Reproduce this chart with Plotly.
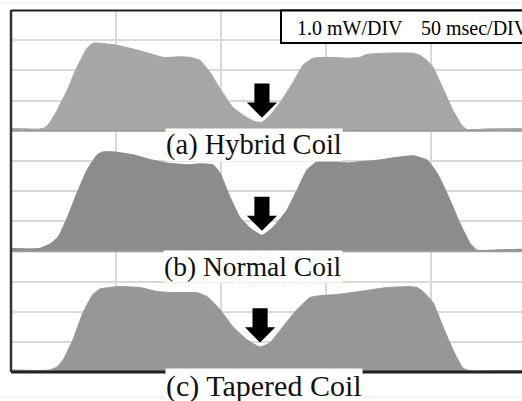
import plotly.graph_objects as go

# ---------------- data (time in msec, optical power in mW) ----------------
time_hybrid = [0, 6.7, 12.9, 16.2, 18.6, 21.9, 26.7, 31.4, 36.2, 39.0, 42.4, 50.5, 61.4, 72.4, 75.7, 80.0,
               85.2, 90.0, 94.8, 99.5, 105.7, 112.4, 116.2, 119.5, 123.3, 128.1, 134.3, 139.0, 143.8,
               150.5, 161.0, 166.2, 169.5, 179.0, 191.4, 194.8, 198.1, 201.0, 205.7, 210.5, 214.8,
               217.1, 228.1, 243.3]
power_hybrid = [0.08, 0.06, 0.05, 0.1, 0.28, 0.67, 1.33, 2.1, 2.73, 2.9, 2.9, 2.83, 2.65, 2.43, 2.43, 2.45,
                2.43, 2.33, 1.93, 1.4, 0.77, 0.43, 0.3, 0.28, 0.5, 0.93, 1.6, 2.17, 2.4,
                2.43, 2.4, 2.43, 2.53, 2.57, 2.57, 2.5, 2.33, 2.1, 1.4, 0.67, 0.17,
                0.04, 0.06, 0.07]

time_normal = [0, 9.0, 13.8, 18.6, 22.4, 26.7, 31.4, 36.2, 41.0, 43.8, 48.6, 58.1, 67.1, 74.3, 83.8, 90.0,
               96.2, 99.5, 104.3, 109.0, 114.3, 119.5, 124.8, 131.4, 136.2, 140.9, 145.7, 150.5, 160.0,
               166.2, 175.7, 181.9, 191.4, 198.1, 202.9, 207.6, 213.8, 218.6, 221.9, 232.9, 243.3]
power_normal = [0.1, 0.08, 0.1, 0.25, 0.47, 1.1, 1.93, 2.7, 3.2, 3.3, 3.3, 3.2, 3.03, 2.93, 2.87, 2.9,
                2.87, 2.6, 1.8, 1.13, 0.75, 0.53, 0.8, 1.37, 2.03, 2.7, 2.97, 3.03, 2.93,
                2.97, 3.03, 3.1, 3.17, 3.03, 2.6, 1.93, 0.93, 0.27, 0.04, 0.05, 0.07]

time_tapered = [0, 13.8, 18.6, 21.9, 24.8, 29.5, 34.3, 39.0, 42.4, 50.5, 61.4, 69.5, 77.6, 88.6, 93.3,
                99.5, 105.7, 112.4, 118.6, 123.3, 129.5, 136.2, 142.4, 147.1, 155.2, 166.2, 179.0,
                190.0, 193.3, 196.2, 201.0, 205.7, 210.5, 215.2, 218.6, 232.9, 243.3]
power_tapered = [0.07, 0.05, 0.07, 0.17, 0.4, 1.07, 1.97, 2.57, 2.75, 2.83, 2.8, 2.67, 2.63, 2.63, 2.5,
                 2.07, 1.5, 1.07, 0.83, 0.97, 1.5, 2.07, 2.47, 2.53, 2.57, 2.67, 2.8,
                 2.83, 2.8, 2.67, 2.3, 1.5, 0.73, 0.13, 0.04, 0.05, 0.05]

panel_labels = ["(a) Hybrid Coil", "(b) Normal Coil", "(c) Tapered Coil"]
scale_labels = ["1.0 mW/DIV", "50 msec/DIV"]

# ---------------- styling / layout ----------------
W, H = 522, 401
fills = ["#a6a6a6", "#8c8c8c", "#979797"]
grid_col = "#d9d9d9"
left_px, top_px = 11, 10
panel_h = 120.67
px_per_div_x = 105.0
ms_per_div = 50.0
x_max = (W - left_px) / px_per_div_x * ms_per_div

series = [(time_hybrid, power_hybrid), (time_normal, power_normal), (time_tapered, power_tapered)]

fig = go.Figure()
layout = dict(width=W, height=H, margin=dict(l=0, r=0, t=0, b=0),
              paper_bgcolor="white", plot_bgcolor="white", showlegend=False)
shapes = []
annotations = []

def py(p):
    return 1 - p / H

for i, (t, p) in enumerate(series):
    sfx = "" if i == 0 else str(i + 1)
    fig.add_trace(go.Scatter(x=t, y=p, mode="lines",
                             line=dict(color=fills[i], width=1, shape="spline", smoothing=0.4),
                             fill="tozeroy", fillcolor=fills[i],
                             xaxis="x" + sfx, yaxis="y" + sfx, hoverinfo="skip"))
    top = top_px + panel_h * i
    bot = top + panel_h
    layout["xaxis" + sfx] = dict(domain=[left_px / W, 1], range=[0, x_max], anchor="y" + sfx,
                                 showgrid=True, gridcolor=grid_col, gridwidth=1.5, dtick=ms_per_div,
                                 tick0=0, showticklabels=False, zeroline=False, showline=False,
                                 ticks="")
    layout["yaxis" + sfx] = dict(domain=[py(bot), py(top)], range=[0, 4], anchor="x" + sfx,
                                 showgrid=True, gridcolor=grid_col, gridwidth=2, dtick=1,
                                 showticklabels=False, zeroline=False, showline=False, ticks="")
    # arrow pointing at the central dip (derived from the data)
    mid = [(tt, pp) for tt, pp in zip(t, p) if 80 < tt < 160]
    cx, pmin = min(mid, key=lambda v: v[1])
    tip = pmin + 0.15
    head = tip + 0.5
    tail = tip + 1.13
    sw, hw = 3.6, 7.2
    path = (f"M {cx - sw},{tail} L {cx + sw},{tail} L {cx + sw},{head} L {cx + hw},{head} "
            f"L {cx},{tip} L {cx - hw},{head} L {cx - sw},{head} Z")
    shapes.append(dict(type="path", path=path, xref="x" + sfx, yref="y" + sfx,
                       fillcolor="black", line=dict(width=0), layer="above"))
    # panel baseline
    lc = "#222222" if i == 2 else "#9a9a9a"
    lw = 3 if i == 2 else 2
    shapes.append(dict(type="line", xref="paper", yref="paper", x0=left_px / W, x1=1,
                       y0=py(bot), y1=py(bot), line=dict(color=lc, width=lw), layer="above"))

# frame: left and top border
shapes.append(dict(type="line", xref="paper", yref="paper", x0=left_px / W, x1=left_px / W,
                   y0=py(top_px + 3 * panel_h), y1=py(top_px), line=dict(color="#333333", width=2.5),
                   layer="above"))
shapes.append(dict(type="line", xref="paper", yref="paper", x0=left_px / W, x1=1,
                   y0=py(top_px + 0.5), y1=py(top_px + 0.5), line=dict(color="#222222", width=2),
                   layer="above"))
# faint outer lines
for yy in (3, 397):
    shapes.append(dict(type="line", xref="paper", yref="paper", x0=0, x1=1, y0=py(yy), y1=py(yy),
                       line=dict(color="#ececec", width=1), layer="below"))
# scale box
shapes.append(dict(type="rect", xref="paper", yref="paper", x0=281 / W, x1=560 / W,
                   y0=py(43), y1=py(10.5), fillcolor="white", line=dict(color="black", width=2),
                   layer="above"))

annotations.append(dict(text=scale_labels[0], xref="paper", yref="paper", x=295 / W, y=py(28.5),
                        xanchor="left", yanchor="middle", showarrow=False,
                        font=dict(family="Liberation Serif", size=20, color="black")))
annotations.append(dict(text=scale_labels[1], xref="paper", yref="paper", x=419 / W, y=py(28.5),
                        xanchor="left", yanchor="middle", showarrow=False,
                        font=dict(family="Liberation Serif", size=20, color="black")))

label_pos = [(254, 145, 28.5), (253, 266, 27.5), (264, 386, 30)]
for txt, (lx, ly, fs) in zip(panel_labels, label_pos):
    annotations.append(dict(text=txt, xref="paper", yref="paper", x=lx / W, y=py(ly),
                            xanchor="center", yanchor="middle", showarrow=False, bgcolor="white",
                            borderpad=0,
                            font=dict(family="Liberation Serif", size=fs, color="#111111")))

layout["shapes"] = shapes
layout["annotations"] = annotations
fig.update_layout(**layout)
fig.write_html("out.html")
